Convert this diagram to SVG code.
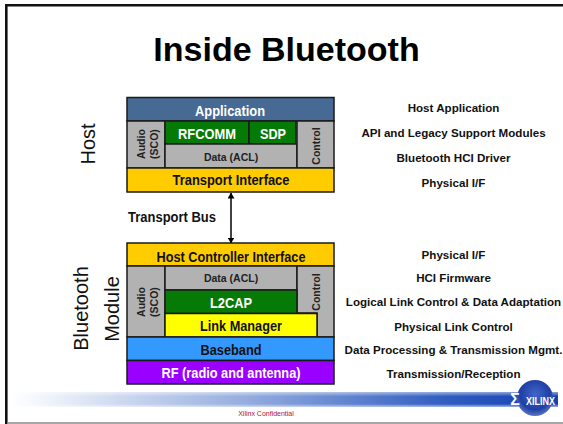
<svg xmlns="http://www.w3.org/2000/svg" width="563" height="424" viewBox="0 0 563 424">
<style>
text{font-family:"Liberation Sans",Arial,sans-serif;text-anchor:middle}
.b{stroke:#1a1a1a;stroke-width:1.5}
.w{fill:#fff;font-weight:700;font-size:14px}
.k{fill:#111;font-weight:700;font-size:14px}
.s{fill:#222;font-weight:700;font-size:10.500px}
.r{fill:#111;font-weight:700;font-size:11.600px}
.l{fill:#111;font-size:20px}
</style>
<defs>
<linearGradient id="bar" x1="0" x2="1" y1="0" y2="0"><stop offset="0" stop-color="#fff"/><stop offset=".45" stop-color="#8fa8dd"/><stop offset=".8" stop-color="#2f5cc0"/><stop offset="1" stop-color="#1440b0"/></linearGradient>
<linearGradient id="barv" x1="0" x2="0" y1="0" y2="1"><stop offset="0" stop-color="#fff" stop-opacity=".5"/><stop offset=".3" stop-color="#fff" stop-opacity="0"/><stop offset=".8" stop-color="#fff" stop-opacity="0"/><stop offset="1" stop-color="#fff" stop-opacity=".6"/></linearGradient>
<radialGradient id="globe" cx=".5" cy=".4" r=".6"><stop offset="0" stop-color="#3f66c8"/><stop offset=".7" stop-color="#1f3fa5"/><stop offset="1" stop-color="#5a76c0"/></radialGradient>
<marker id="ah" markerWidth="6" markerHeight="7" refX="5.500" refY="3.500" orient="auto-start-reverse" markerUnits="userSpaceOnUse"><path d="M0 0L6 3.500L0 7z" fill="#000"/></marker>
</defs>
<rect x="0" y="0" width="563" height="424" fill="#fff"/>
<g id="frame"><path d="M6.300 424V5.300H563" fill="none" stroke="#111" stroke-width="2.600"/><path d="M7 423H563" stroke="#888" stroke-width="1.500"/></g>
<text x="286.500" y="61" font-size="34" font-weight="700" fill="#000">Inside Bluetooth</text>
<g id="footer">
<rect x="12" y="392" width="546" height="15" fill="url(#bar)"/><rect x="12" y="392" width="546" height="15" fill="url(#barv)"/>
<text x="266" y="416" font-size="7" fill="#b01040">Xilinx Confidential</text>
<circle cx="535" cy="398" r="18" fill="url(#globe)"/>
<text x="540.500" y="405" font-size="11.500" font-weight="700" fill="#fff" textLength="29" lengthAdjust="spacingAndGlyphs">XILINX</text>
<text x="515" y="405" font-size="16" font-weight="700" fill="#fff">Σ</text>
</g>
<g id="side-labels">
<text class="l" transform="translate(95,144) rotate(-90)">Host</text>
<text class="l" transform="translate(88,308.500) rotate(-90)">Bluetooth</text>
<text class="l" transform="translate(119,309) rotate(-90)">Module</text>
</g>
<g id="connectors">
<line x1="231" y1="193" x2="231" y2="243" stroke="#000" stroke-width="1.500" marker-start="url(#ah)" marker-end="url(#ah)"/>
</g>
<text x="172" y="222" class="k" textLength="88" lengthAdjust="spacingAndGlyphs">Transport Bus</text>
<g id="host">
<g id="application"><rect class="b" x="127" y="97.500" width="207" height="23.500" fill="#476a94"/><text class="w" x="230" y="116" textLength="70" lengthAdjust="spacingAndGlyphs">Application</text></g>
<g id="host-audio"><rect class="b" x="127" y="121" width="38" height="47" fill="#b2b2b2"/><text class="s" transform="translate(144.500,144) rotate(-90)">Audio</text><text class="s" transform="translate(158,144) rotate(-90)">(SCO)</text></g>
<g id="rfcomm"><rect class="b" x="165" y="121" width="84" height="23" fill="#067a06"/><text class="w" x="207" y="139" textLength="58" lengthAdjust="spacingAndGlyphs">RFCOMM</text></g>
<g id="sdp"><rect class="b" x="249" y="121" width="47" height="23" fill="#067a06"/><text class="w" x="273" y="139" textLength="26" lengthAdjust="spacingAndGlyphs">SDP</text></g>
<g id="host-data"><rect class="b" x="165" y="144" width="132" height="24" fill="#b2b2b2"/><text class="s" x="231" y="161">Data (ACL)</text></g>
<g id="host-control"><rect class="b" x="297" y="121" width="37" height="47" fill="#b2b2b2"/><text class="s" transform="translate(320,146) rotate(-90)">Control</text></g>
<g id="transport"><rect class="b" x="127" y="168" width="207" height="24" fill="#ffcc00"/><text class="k" x="231" y="185" textLength="117" lengthAdjust="spacingAndGlyphs">Transport Interface</text></g>
</g>
<g id="module">
<g id="hci"><rect class="b" x="127" y="243" width="207" height="23" fill="#ffcc00"/><text class="k" x="231" y="262" textLength="149" lengthAdjust="spacingAndGlyphs">Host Controller Interface</text></g>
<g id="mod-audio"><rect class="b" x="127" y="266" width="38" height="71" fill="#b2b2b2"/><text class="s" transform="translate(144.500,302) rotate(-90)">Audio</text><text class="s" transform="translate(158,302) rotate(-90)">(SCO)</text></g>
<g id="mod-data"><rect class="b" x="165" y="266" width="132" height="24" fill="#b2b2b2"/><text class="s" x="231" y="282">Data (ACL)</text></g>
<g id="mod-control"><path class="b" d="M297 266H334V337H317V313H297z" fill="#b2b2b2"/><text class="s" transform="translate(320,292) rotate(-90)">Control</text></g>
<g id="l2cap"><rect class="b" x="165" y="290" width="132" height="23.500" fill="#067a06"/><text class="w" x="231" y="308" textLength="42" lengthAdjust="spacingAndGlyphs">L2CAP</text></g>
<g id="lm"><rect class="b" x="165" y="313.500" width="152" height="23.500" fill="#ffff00"/><text class="k" x="241" y="331" textLength="82" lengthAdjust="spacingAndGlyphs">Link Manager</text></g>
<g id="baseband"><rect class="b" x="127" y="337" width="207" height="23.500" fill="#3399ff"/><text class="k" x="231" y="355" textLength="61" lengthAdjust="spacingAndGlyphs">Baseband</text></g>
<g id="rf"><rect class="b" x="127" y="360.500" width="207" height="23.500" fill="#9900ff"/><text class="w" x="231" y="378" textLength="139" lengthAdjust="spacingAndGlyphs">RF (radio and antenna)</text></g>
</g>
<g id="right-labels">
<text class="r" x="453.500" y="112">Host Application</text>
<text class="r" x="453.500" y="137">API and Legacy Support Modules</text>
<text class="r" x="453.500" y="162">Bluetooth HCI Driver</text>
<text class="r" x="453.500" y="187">Physical I/F</text>
<text class="r" x="453.500" y="259">Physical I/F</text>
<text class="r" x="453.500" y="282">HCI Firmware</text>
<text class="r" x="453.500" y="306">Logical Link Control &amp; Data Adaptation</text>
<text class="r" x="453.500" y="331">Physical Link Control</text>
<text class="r" x="453.500" y="354">Data Processing &amp; Transmission Mgmt.</text>
<text class="r" x="453.500" y="378">Transmission/Reception</text>
</g>
</svg>
